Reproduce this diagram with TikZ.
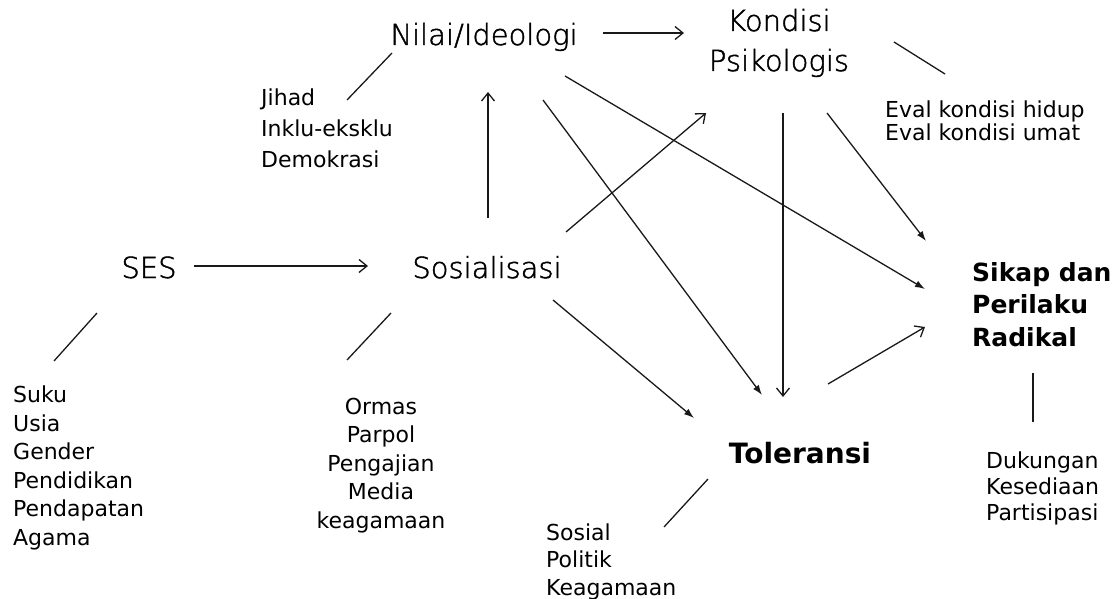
\documentclass[tikz,border=0pt]{standalone}
\usepackage{fontspec}
\setmainfont{DejaVu Sans}
\newfontfamily\lightfont[FakeBold=1.5]{DejaVu Sans ExtraLight}
\usetikzlibrary{arrows.meta}
\begin{document}
\begin{tikzpicture}[x=1pt,y=-1pt,
  big/.style={font=\lightfont\fontsize{29}{40}\selectfont, inner sep=0pt, anchor=base},
  heavy/.style={font=\bfseries\fontsize{25}{32.5}\selectfont, inner sep=0pt, align=left, anchor=base west},
  note/.style={font=\fontsize{22}{#1}\selectfont, inner sep=0pt, align=left, anchor=base west},
  note/.default=28.5,
  link/.style={line width=1.3pt, draw=black!90},
  oarr/.style={link, -{Straight Barb[length=8pt,width=13pt,line width=1.3pt]}},
  farr/.style={link, -{Latex[length=10pt,width=7pt]}}]
\useasboundingbox (0,0) rectangle (1116,599);

% main concepts (multi-line nodes: base = baseline of last line)
\node[big] (nilai) at (484,45) {Nilai/Ideologi};
\node[big, align=center] (kondisi) at (779,71) {Kondisi\\Psikologis};
\node[big] (ses) at (149,278) {SES};
\node[big] (sos) at (487,278) {Sosialisasi};
\node[font=\bfseries\fontsize{28}{34}\selectfont, inner sep=0pt, anchor=base] (tol) at (800,463) {Toleransi};
\node[heavy] (sikap) at (972,346) {Sikap dan\\Perilaku\\Radikal};

% indicator lists
\node[note=31] (ideo) at (261,167) {Jihad\\Inklu-eksklu\\Demokrasi};
\node[note=23] (eval) at (885,141) {Eval kondisi hidup\\Eval kondisi umat};
\node[note=28.5] (sesitems) at (13,545) {Suku\\Usia\\Gender\\Pendidikan\\Pendapatan\\Agama};
\node[note=28.5, align=center, anchor=base] (sositems) at (381,528) {Ormas\\Parpol\\Pengajian\\Media\\keagamaan};
\node[note=26] (raditems) at (986,520) {Dukungan\\Kesediaan\\Partisipasi};
\node[note=27.5] (tolitems) at (546,595) {Sosial\\Politik\\Keagamaan};

% connector end points
\coordinate (nilai-a) at (392,53);   \coordinate (ideo-a) at (347,100);
\coordinate (kond-a) at (894,42);    \coordinate (eval-a) at (945,74);
\coordinate (ses-a) at (97,313);     \coordinate (sesit-a) at (54,361);
\coordinate (sos-a) at (391,313);    \coordinate (sosit-a) at (347,360);
\coordinate (sikap-a) at (1033,373); \coordinate (radit-a) at (1033,422);
\coordinate (tol-a) at (708,479);    \coordinate (tolit-a) at (664,527);

\coordinate (ses-e) at (194,266);    \coordinate (sos-w) at (368,266);
\coordinate (nilai-e) at (603,33);   \coordinate (kond-w) at (684,33);
\coordinate (sos-n) at (488,218);    \coordinate (nilai-s) at (488,92);
\coordinate (sos-ne) at (566,232);   \coordinate (kond-sw) at (706,113);
\coordinate (kond-s) at (783,113);   \coordinate (tol-n) at (783,397);
\coordinate (tol-ne) at (828,384);   \coordinate (sikap-sw) at (925,327);
\coordinate (nilai-se) at (565,76);  \coordinate (sikap-w) at (925,289);
\coordinate (nilai-ss) at (543,100); \coordinate (tol-nw) at (762,395);
\coordinate (kond-se) at (827,113);  \coordinate (sikap-nw) at (926,241);
\coordinate (sos-se) at (553,300);   \coordinate (tol-w) at (694,418);

% plain links to indicators
\draw[link] (nilai-a) -- (ideo-a);
\draw[link] (kond-a) -- (eval-a);
\draw[link] (ses-a) -- (sesit-a);
\draw[link] (sos-a) -- (sosit-a);
\draw[link] (sikap-a) -- (radit-a);
\draw[link] (tol-a) -- (tolit-a);

% open-headed arrows
\draw[oarr] (ses-e) -- (sos-w);
\draw[oarr] (nilai-e) -- (kond-w);
\draw[oarr] (sos-n) -- (nilai-s);
\draw[oarr] (sos-ne) -- (kond-sw);
\draw[oarr] (kond-s) -- (tol-n);
\draw[oarr] (tol-ne) -- (sikap-sw);

% filled-headed arrows
\draw[farr] (nilai-se) -- (sikap-w);
\draw[farr] (nilai-ss) -- (tol-nw);
\draw[farr] (kond-se) -- (sikap-nw);
\draw[farr] (sos-se) -- (tol-w);
\end{tikzpicture}
\end{document}
